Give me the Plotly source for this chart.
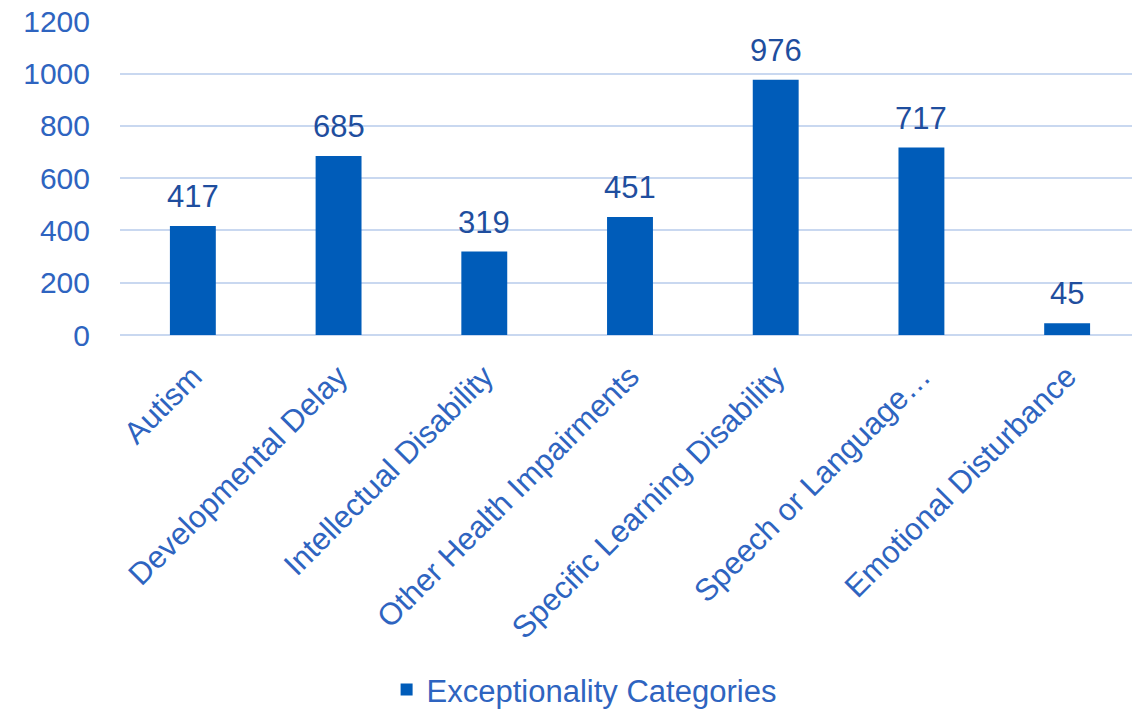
import plotly.graph_objects as go

categories = ["Autism", "Developmental Delay", "Intellectual Disability",
              "Other Health Impairments", "Specific Learning Disability",
              "Speech or Language…", "Emotional Disturbance"]
values = [417, 685, 319, 451, 976, 717, 45]
series_name = "Exceptionality Categories"
y_ticks = [0, 200, 400, 600, 800, 1000, 1200]

FONT = "Liberation Sans, Arial, sans-serif"
BAR = "#005CB9"
TICK = "#2E64C0"
LABEL = "#1F4E9E"
GRID = "#C9D8F0"

fig = go.Figure()
fig.add_trace(go.Bar(x=categories, y=values, name=series_name,
                     marker=dict(color=BAR, line=dict(width=0)),
                     width=0.315, showlegend=True))

for c, v in zip(categories, values):
    fig.add_annotation(x=c, y=v, text=str(v), showarrow=False,
                       yanchor="bottom", yshift=10,
                       font=dict(family=FONT, size=31, color=LABEL))

fig.update_layout(
    width=1140, height=711,
    margin=dict(l=112, r=8, t=13, b=384, autoexpand=False),
    paper_bgcolor="white", plot_bgcolor="white",
    font=dict(family=FONT, size=30, color=TICK),
    showlegend=True,
    legend=dict(orientation="h", x=0.455, xanchor="center", y=-1.13, yanchor="middle",
                font=dict(family=FONT, size=31, color=TICK), itemwidth=30),
    bargap=0.685,
)
fig.update_yaxes(range=[0, 1201], tickvals=y_ticks, showgrid=True, gridcolor=GRID,
                 gridwidth=2, zeroline=True, zerolinecolor=GRID, zerolinewidth=2,
                 ticks="outside", ticklen=23, tickcolor="rgba(0,0,0,0)",
                 ticklabeloverflow="allow",
                 tickfont=dict(family=FONT, size=30, color=TICK), showline=False,
                 fixedrange=True)
fig.update_xaxes(tickangle=-45, showgrid=False, showline=False,
                 ticks="outside", ticklen=10, tickcolor="rgba(0,0,0,0)",
                 tickfont=dict(family=FONT, size=31, color=TICK), automargin=False,
                 fixedrange=True)

fig.write_html("out.html")
